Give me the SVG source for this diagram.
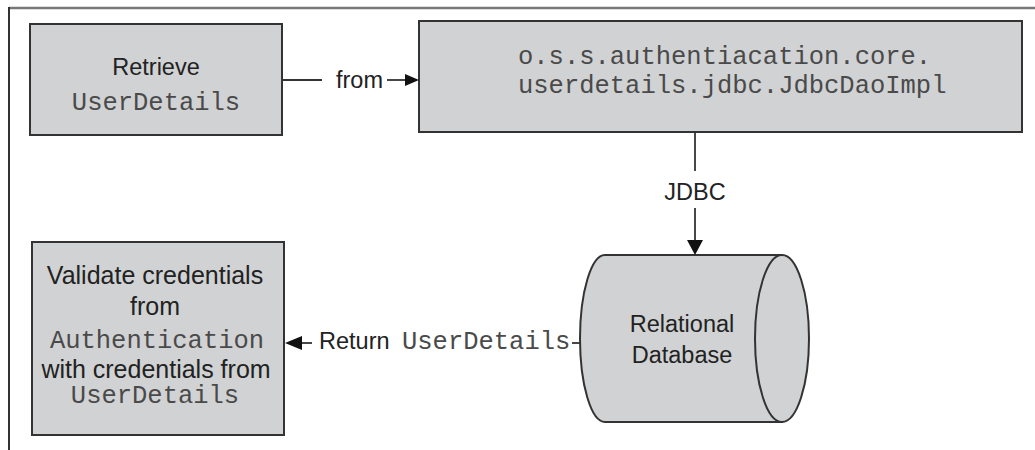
<svg xmlns="http://www.w3.org/2000/svg" width="1035" height="450" viewBox="0 0 1035 450">
<defs>
<style>
.box{fill:#d1d2d4;stroke:#333;stroke-width:2}
.sans{font-family:"Liberation Sans",Arial,sans-serif;font-size:23.5px;fill:#222}
.big{font-size:25px}
.mono{font-family:"Liberation Mono","Courier New",monospace;font-size:25.5px;fill:#4a4a4a}
.ln{stroke:#333;stroke-width:1.8;fill:none}
.ah{fill:#111}
</style>
</defs>
<rect width="1035" height="450" fill="#fff"/>
<g id="frame">
<line x1="9" y1="8" x2="1035" y2="8" stroke="#777" stroke-width="2.5"/>
<line x1="9" y1="7" x2="9" y2="450" stroke="#333" stroke-width="2"/>
</g>
<g id="retrieve">
<rect class="box" x="30" y="24" width="252" height="111"/>
<text class="sans" x="156" y="75" text-anchor="middle">Retrieve</text>
<text class="mono" x="156" y="110" text-anchor="middle">UserDetails</text>
</g>
<g id="jdbcdao">
<rect class="box" x="419" y="21" width="603" height="111"/>
<text class="mono" x="518" y="64">o.s.s.authentiacation.core.</text>
<text class="mono" x="518" y="93">userdetails.jdbc.JdbcDaoImpl</text>
</g>
<g id="validate">
<rect class="box" x="32" y="242" width="252" height="193"/>
<text class="sans big" x="155" y="284" text-anchor="middle">Validate credentials</text>
<text class="sans big" x="155" y="315" text-anchor="middle">from</text>
<text class="mono" x="157" y="348" text-anchor="middle">Authentication</text>
<text class="sans big" x="156" y="378" text-anchor="middle">with credentials from</text>
<text class="mono" x="155" y="403" text-anchor="middle">UserDetails</text>
</g>
<g id="database">
<path class="box" d="M605,255 L782,255 L782,422 L605,422 A25,83.5 0 0 1 605,255 Z"/>
<ellipse class="box" cx="782" cy="338.5" rx="27" ry="83.5"/>
<text class="sans" x="682" y="332" text-anchor="middle" font-size="24">Relational</text>
<text class="sans" x="682" y="363" text-anchor="middle" font-size="24">Database</text>
</g>
<g id="connectors">
<line class="ln" x1="282" y1="80" x2="322" y2="80"/>
<text class="sans" x="336" y="88">from</text>
<line class="ln" x1="387" y1="80" x2="407" y2="80"/>
<polygon class="ah" points="419,80 405,74 405,86"/>
<line class="ln" x1="695" y1="132" x2="695" y2="171"/>
<text class="sans" x="695" y="200" text-anchor="middle">JDBC</text>
<line class="ln" x1="695" y1="208" x2="695" y2="242"/>
<polygon class="ah" points="695,255 687,240 703,240"/>
<line class="ln" x1="572" y1="343" x2="580" y2="343"/>
<text class="sans" x="319" y="349">Return</text>
<text class="mono" x="402" y="349">UserDetails</text>
<line class="ln" x1="300" y1="343" x2="312" y2="343"/>
<polygon class="ah" points="285,343 302,336 302,350"/>
</g>
</svg>
